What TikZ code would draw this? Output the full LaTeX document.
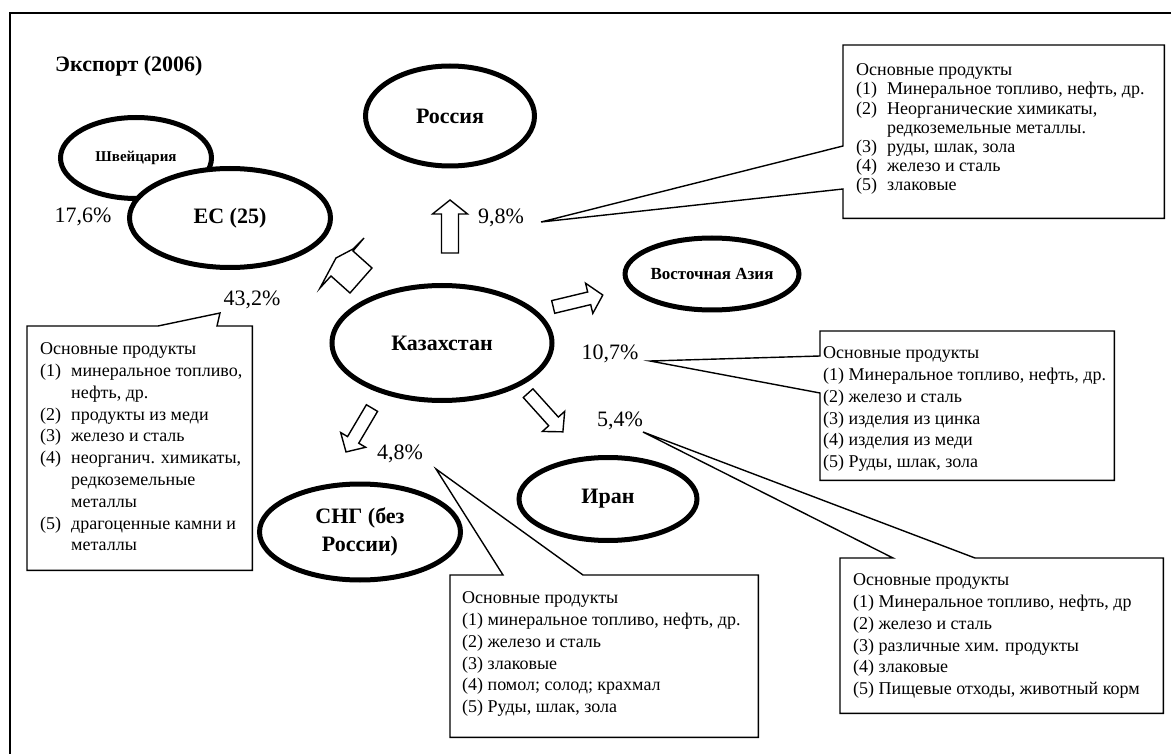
\documentclass[tikz,border=0pt]{standalone}
\usepackage{fontspec}
\setmainfont{Liberation Serif}
\usetikzlibrary{shapes.geometric,positioning}

\newcommand\itm[1]{\makebox[31pt][l]{(#1)}}
\newcommand\cont{\hspace*{31pt}}
% block arrow: centre, angle, half length, half shaft, half head
\newcommand\flowarrow[5]{\draw[flow,shift={(#1)},rotate=#2] (-#3,-#4) -- (#3-14,-#4) -- (#3-14,-#5)
  -- (#3,0) -- (#3-14,#5) -- (#3-14,#4) -- (-#3,#4) -- cycle;}

\tikzset{
  region/.style={ellipse,draw,line width=5pt,fill=white,inner sep=0pt,align=center,
    font=\bfseries\fontsize{22}{28}\selectfont},
  share/.style={inner sep=0pt,font=\fontsize{22}{26}\selectfont},
  flow/.style={draw,line width=1.4pt,fill=white,line join=miter},
  callout/.style={draw,line width=1.4pt},
  listbox/.style={rectangle,inner sep=0pt,anchor=north west},
  listtext/.style={inner sep=0pt,align=left,font=\fontsize{18}{21.8}\selectfont},
}

\begin{document}
\begin{tikzpicture}[x=1pt,y=-1pt]
  \useasboundingbox (0,0) rectangle (1171,754);
  \draw[line width=1.5pt] (10,754) -- (10,13) -- (1171,13);

  \node[anchor=west,inner sep=0pt,font=\bfseries\fontsize{22}{26}\selectfont] (title) at (55,66) {Экспорт (2006)};

  % regions
  \node[region,minimum width=151,minimum height=81,font=\bfseries\fontsize{15}{18}\selectfont] (ch) at (136,158) {Швейцария};
  \node[region,minimum width=201,minimum height=99] (eu) at (230,218) {ЕС (25)};
  \node[region,minimum width=169,minimum height=100] (ru) at (450,116) {Россия};
  \node[region,minimum width=220,minimum height=115] (kz) at (442,343) {Казахстан};
  \node[region,minimum width=154,minimum height=72,font=\bfseries\fontsize{17}{20}\selectfont] (ea) at (712,274) {Восточная Азия};
  \node[region,minimum width=178,minimum height=83] (ir) at (608,499) {Иран};
  \node[region,minimum width=201,minimum height=96] (cis) at (360,532) {СНГ (без\\России)};

  % shares
  \node[share] (p176) at (83,217) {17,6\%};
  \node[share] (p432) at (252,300) {43,2\%};
  \node[share] (p98) at (501,218) {9,8\%};
  \node[share] (p107) at (610,354) {10,7\%};
  \node[share] (p54) at (620,421) {5,4\%};
  \node[share] (p48) at (400,454) {4,8\%};

  % flows out of Kazakhstan
  \flowarrow{450,226.5}{90}{26.5}{8.5}{17.5}
  \flowarrow{578,301}{13.5}{25.5}{6.5}{15.5}
  \flowarrow{545.5,412.5}{-48}{26}{6.5}{15}
  \flowarrow{359,430}{-120.6}{25.5}{6.5}{14.5}
  \draw[flow] (320,288) -- (336,258) -- (353,249) -- (364,238) -- (353,251)
    -- (372,268) -- (350,293) -- (331,276) -- cycle;

  % pointer tips
  \coordinate (tipA) at (220,313);
  \coordinate (tipB) at (541,222);
  \coordinate (tipC) at (650,361);
  \coordinate (tipD) at (436,469);
  \coordinate (tipE) at (643,432);

  % product boxes
  \node[listbox,minimum width=225,minimum height=244] (boxA) at (27,326) {};
  \node[listbox,minimum width=321,minimum height=173] (boxB) at (843,45) {};
  \node[listbox,minimum width=294,minimum height=149] (boxC) at (820,331) {};
  \node[listbox,minimum width=308,minimum height=162] (boxD) at (450,575) {};
  \node[listbox,minimum width=323,minimum height=155] (boxE) at (840,558) {};

  \draw[callout] (boxA.north west) -- ([xshift=131pt]boxA.north west) -- (tipA)
    -- ([xshift=190pt]boxA.north west) -- (boxA.north east) -- (boxA.south east) -- (boxA.south west) -- cycle;
  \draw[callout] (boxB.north west) -- (boxB.north east) -- (boxB.south east) -- (boxB.south west)
    -- ([yshift=-144pt]boxB.north west) -- (tipB) -- ([yshift=-101pt]boxB.north west) -- cycle;
  \draw[callout] (boxC.north west) -- (boxC.north east) -- (boxC.south east) -- (boxC.south west)
    -- ([yshift=-62pt]boxC.north west) -- (tipC) -- ([yshift=-25pt]boxC.north west) -- cycle;
  \draw[callout] (boxD.north west) -- ([xshift=53pt]boxD.north west) -- (tipD)
    -- ([xshift=133pt]boxD.north west) -- (boxD.north east) -- (boxD.south east) -- (boxD.south west) -- cycle;
  \draw[callout] (boxE.north west) -- ([xshift=53pt]boxE.north west) -- (tipE)
    -- ([xshift=135pt]boxE.north west) -- (boxE.north east) -- (boxE.south east) -- (boxE.south west) -- cycle;

  \node[listtext,below right=16.5pt and 13pt of boxA.north west] (listA) {Основные продукты\\
    \itm{1}минеральное топливо,\\ \cont нефть, др.\\ \itm{2}продукты из меди\\
    \itm{3}железо и сталь\\ \itm{4}неорганич. химикаты,\\ \cont редкоземельные\\
    \cont металлы\\ \itm{5}драгоценные камни и\\ \cont металлы};
  \node[listtext,below right=18.5pt and 13pt of boxB.north west,font=\fontsize{18}{19.2}\selectfont] (listB) {Основные продукты\\
    \itm{1}Минеральное топливо, нефть, др.\\ \itm{2}Неорганические химикаты,\\
    \cont редкоземельные металлы.\\ \itm{3}руды, шлак, зола\\ \itm{4}железо и сталь\\
    \itm{5}злаковые};
  \node[listtext,below right=15.5pt and 3pt of boxC.north west] (listC) {Основные продукты\\
    (1) Минеральное топливо, нефть, др.\\ (2) железо и сталь\\ (3) изделия из цинка\\
    (4) изделия из меди\\ (5) Руды, шлак, зола};
  \node[listtext,below right=16.5pt and 12pt of boxD.north west] (listD) {Основные продукты\\
    (1) минеральное топливо, нефть, др.\\ (2) железо и сталь\\ (3) злаковые\\
    (4) помол; солод; крахмал\\ (5) Руды, шлак, зола};
  \node[listtext,below right=15.5pt and 13pt of boxE.north west] (listE) {Основные продукты\\
    (1) Минеральное топливо, нефть, др\\ (2) железо и сталь\\ (3) различные хим. продукты\\
    (4) злаковые\\ (5) Пищевые отходы, животный корм};
\end{tikzpicture}
\end{document}
